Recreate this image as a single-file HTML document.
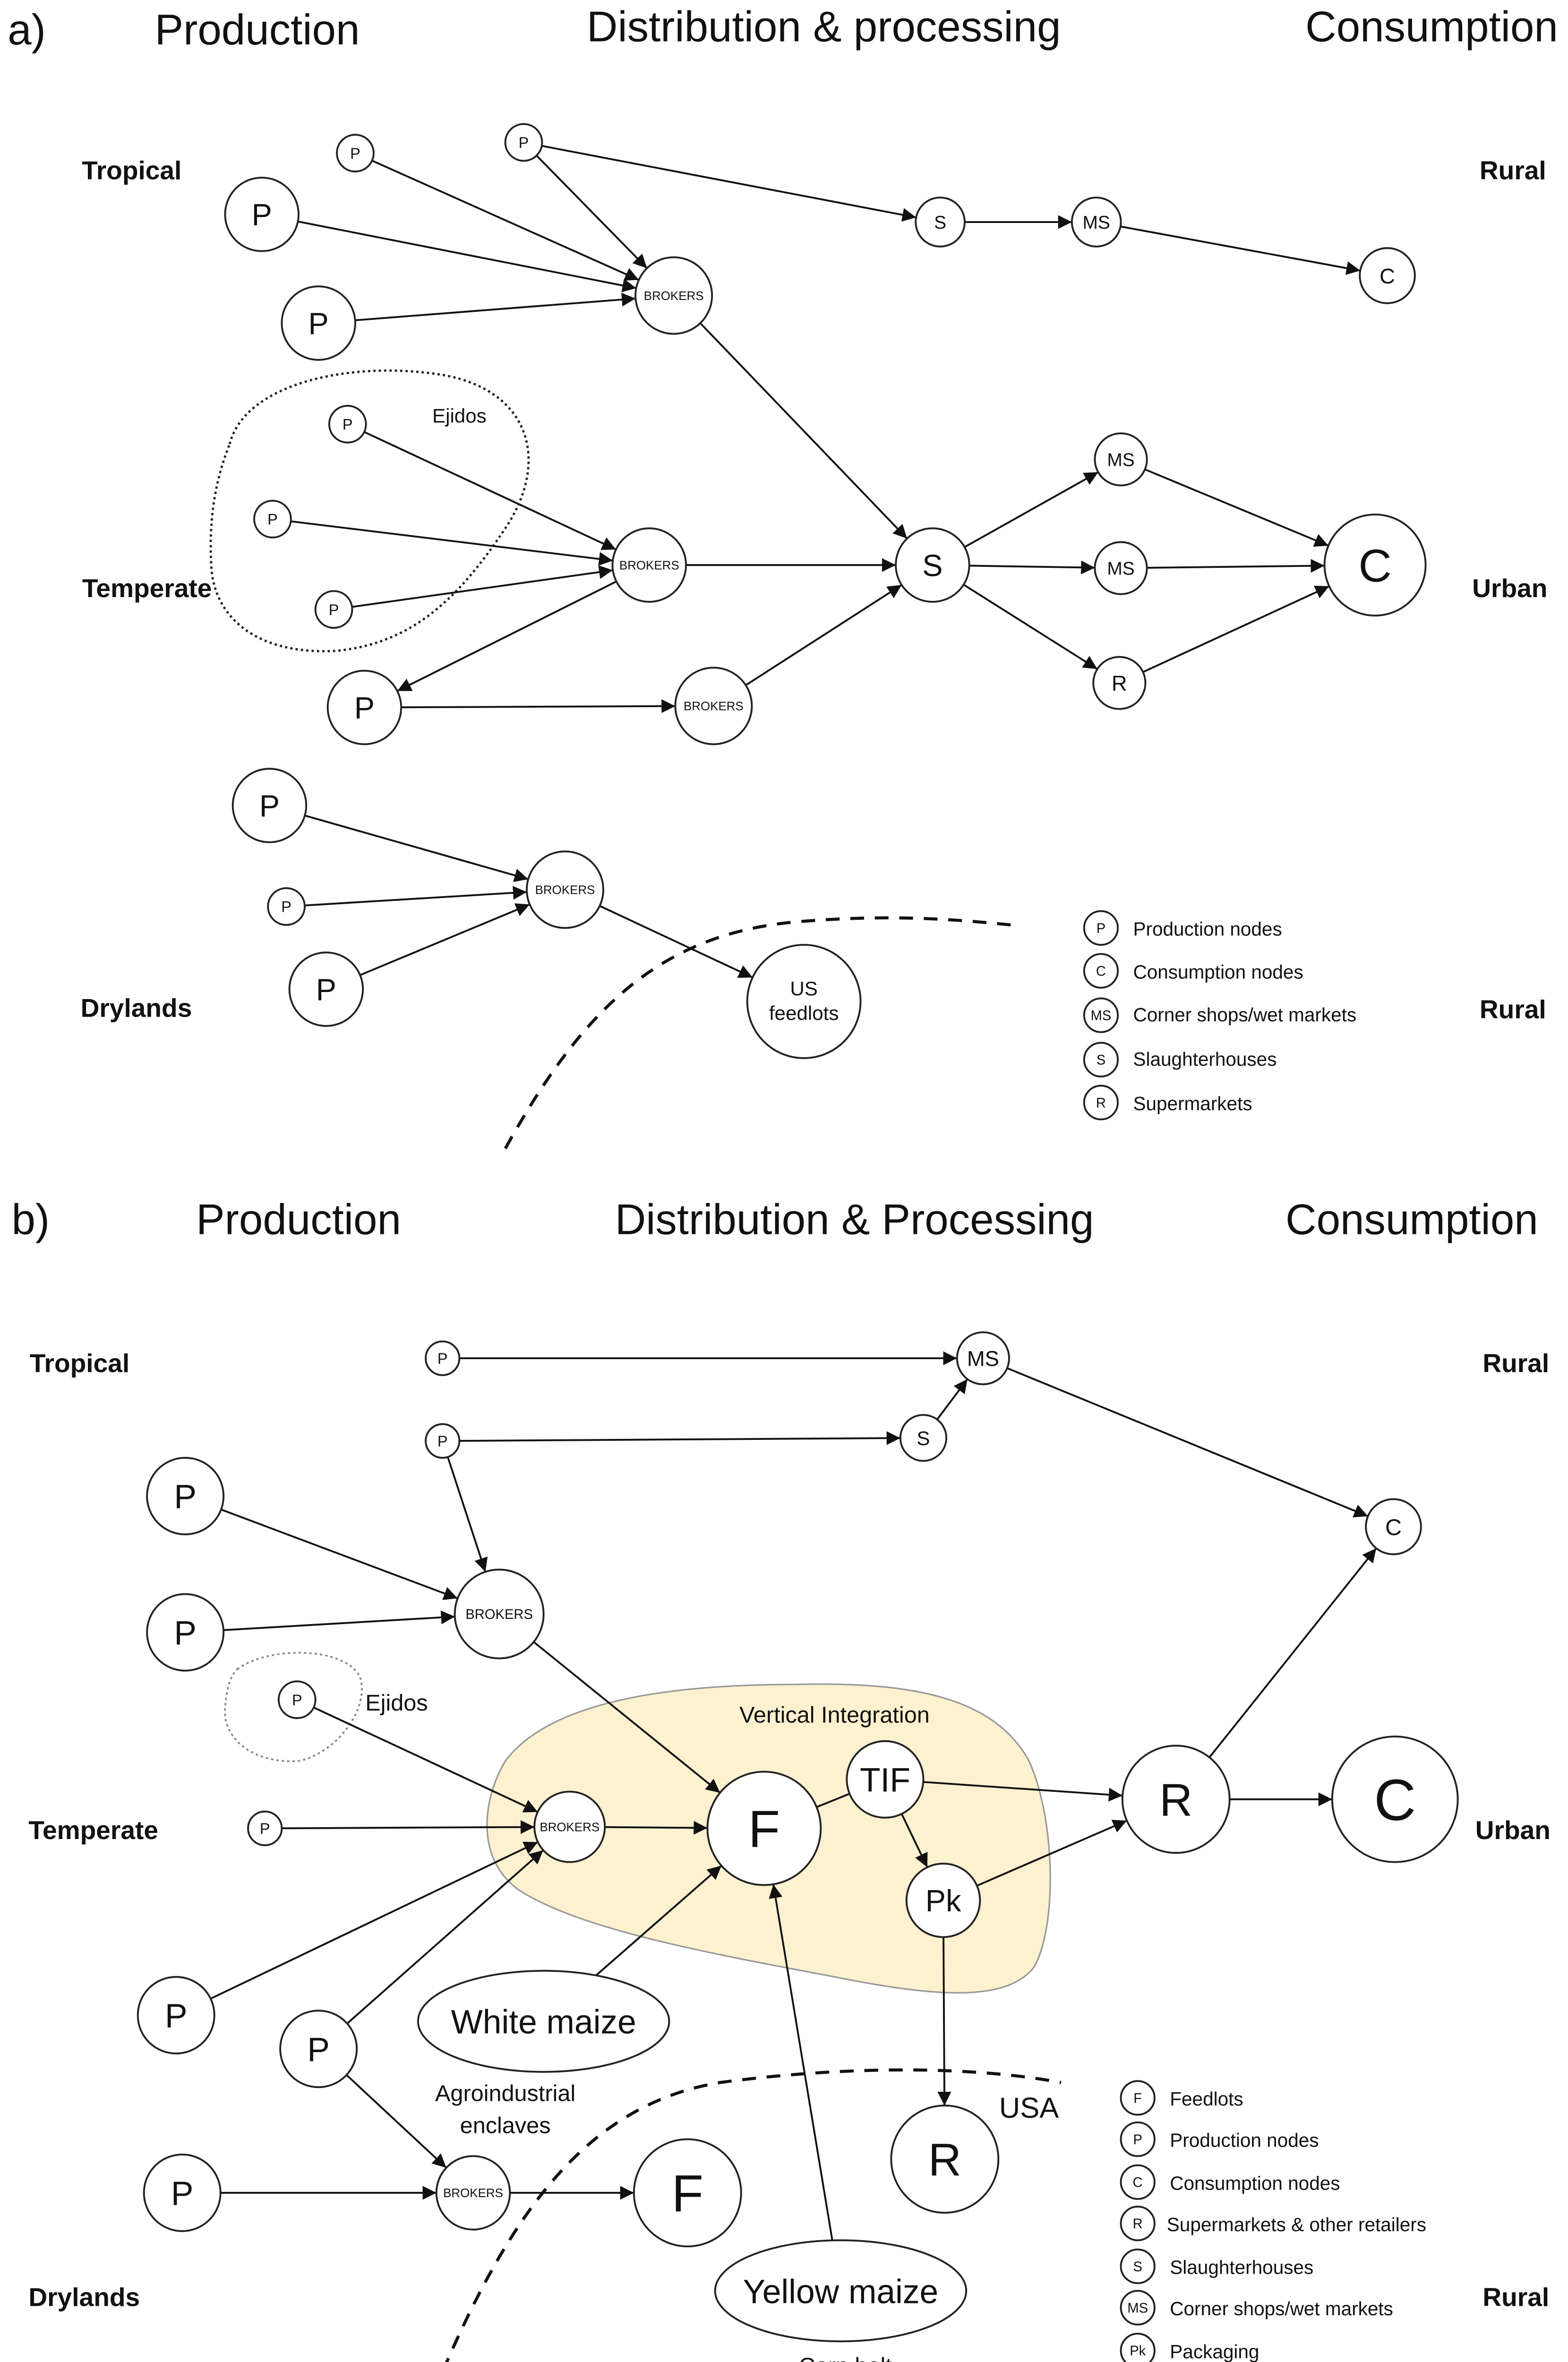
<!DOCTYPE html>
<html><head><meta charset="utf-8">
<style>
html,body{margin:0;padding:0;background:#fff;width:3319px;height:5073px;overflow:hidden;}
svg{display:block;position:absolute;left:0;top:0;width:3319px;height:5073px;}
text{font-family:"Liberation Sans",sans-serif;fill:#111;}
.b{font-weight:bold;font-size:17px;}
.h{font-size:28px;}
.n{fill:#fff;stroke:#222;stroke-width:1.2;}
.lg{font-size:12.5px;}
</style></head>
<body>
<svg id="s" width="3319" height="5073" viewBox="0 0 1024 1565" preserveAspectRatio="none" xmlns="http://www.w3.org/2000/svg">
<defs><marker id="ar" viewBox="0 0 10 10" refX="10" refY="5" markerWidth="9" markerHeight="9" markerUnits="userSpaceOnUse" orient="auto"><path d="M0,0 L10,5 L0,10 z" fill="#111"/></marker></defs>
<rect width="1024" height="1565" fill="#fff"/>
<text x="5" y="29" class="h">a)</text>
<text x="168" y="29" class="h" text-anchor="middle">Production</text>
<text x="538" y="27" class="h" text-anchor="middle">Distribution &amp; processing</text>
<text x="935" y="27" class="h" text-anchor="middle">Consumption</text>
<text x="86" y="117" class="b" text-anchor="middle">Tropical</text>
<text x="988" y="117" class="b" text-anchor="middle">Rural</text>
<text x="96" y="390" class="b" text-anchor="middle">Temperate</text>
<text x="986" y="390" class="b" text-anchor="middle">Urban</text>
<text x="89" y="664" class="b" text-anchor="middle">Drylands</text>
<text x="988" y="665" class="b" text-anchor="middle">Rural</text>
<path d="M150,290 C160,250 230,235 290,245 C345,255 360,300 330,345 C300,390 270,420 220,425 C170,428 140,405 138,370 C136,335 142,310 150,290 Z" fill="none" stroke="#222" stroke-width="1.5" stroke-dasharray="1.5,2"/>
<text x="300" y="276" font-size="13" text-anchor="middle">Ejidos</text>
<path d="M330,750 C380,660 430,610 520,602 C580,597 620,600 660,604" fill="none" stroke="#111" stroke-width="2" stroke-dasharray="9,7"/>
<text x="20" y="806" class="h" text-anchor="middle">b)</text>
<text x="195" y="806" class="h" text-anchor="middle">Production</text>
<text x="558" y="806" class="h" text-anchor="middle">Distribution &amp; Processing</text>
<text x="922" y="806" class="h" text-anchor="middle">Consumption</text>
<text x="52" y="896" class="b" text-anchor="middle">Tropical</text>
<text x="990" y="896" class="b" text-anchor="middle">Rural</text>
<text x="61" y="1201" class="b" text-anchor="middle">Temperate</text>
<text x="988" y="1201" class="b" text-anchor="middle">Urban</text>
<text x="55" y="1506" class="b" text-anchor="middle">Drylands</text>
<text x="990" y="1506" class="b" text-anchor="middle">Rural</text>
<path d="M330,1150 C360,1110 440,1100 520,1100 C600,1098 650,1110 672,1150 C690,1190 690,1260 675,1285 C655,1310 600,1302 540,1290 C460,1275 380,1260 340,1235 C310,1215 315,1175 330,1150 Z" fill="#fdf1cf" stroke="#999" stroke-width="1"/>
<text x="545" y="1125" font-size="15" text-anchor="middle">Vertical Integration</text>
<path d="M155,1090 C175,1075 225,1075 235,1095 C242,1115 220,1145 195,1150 C165,1152 145,1135 147,1115 C148,1103 150,1095 155,1090 Z" fill="none" stroke="#888" stroke-width="1.2" stroke-dasharray="1.5,2"/>
<text x="259" y="1117" font-size="15" text-anchor="middle">Ejidos</text>
<path d="M283,1563 C330,1450 380,1375 470,1360 C560,1348 640,1350 693,1360" fill="none" stroke="#111" stroke-width="2" stroke-dasharray="9,7"/>
<g id="edges" stroke="#111" stroke-width="1.2" fill="none"></g>
<g id="nodes"></g>
<text x="330" y="1372" font-size="15" text-anchor="middle">Agroindustrial</text>
<text x="330" y="1393" font-size="15" text-anchor="middle">enclaves</text>
<text x="672" y="1383" font-size="19" text-anchor="middle">USA</text>
<text x="552" y="1550" font-size="15" text-anchor="middle">Corn belt</text>
<g class="lg">
<text x="740" y="611">Production nodes</text>
<text x="740" y="639">Consumption nodes</text>
<text x="740" y="667">Corner shops/wet markets</text>
<text x="740" y="696">Slaughterhouses</text>
<text x="740" y="725">Supermarkets</text>
<text x="764" y="1375">Feedlots</text>
<text x="764" y="1402">Production nodes</text>
<text x="764" y="1430">Consumption nodes</text>
<text x="762" y="1457">Supermarkets &amp; other retailers</text>
<text x="764" y="1485">Slaughterhouses</text>
<text x="764" y="1512">Corner shops/wet markets</text>
<text x="764" y="1540">Packaging</text>
</g>
</svg>
<script>
var N={
a1:[232,100,12,'P',10],a2:[342,93,12,'P',10],a3:[171,140,24,'P',20],a4:[208,211,24,'P',20],aB1:[440,193,25,'BROKERS',8],
aS1:[614,145,16,'S',12],aM1:[716,145,16,'MS',12],aC1:[906,180,18,'C',14],
e1:[227,277,12,'P',10],e2:[178,339,12,'P',10],e3:[218,398,12,'P',10],
aB2:[424,369,24,'BROKERS',8],aS2:[609,369,24,'S',20],aM2:[732,300,17,'MS',12],aM3:[732,371,17,'MS',12],aR:[731,446,17,'R',14],aC2:[898,369,33,'C',30],
a5:[238,462,24,'P',20],aB3:[466,461,25,'BROKERS',8],
d1:[176,526,24,'P',20],d2:[187,592,12,'P',10],d3:[213,646,24,'P',20],aB4:[369,581,25,'BROKERS',8],US:[525,654,37,'',0],
L1:[719,606,11,'P',9],L2:[719,634,11,'C',9],L3:[719,663,11,'MS',9],L4:[719,692,11,'S',9],L5:[719,720,11,'R',9],
b1:[289,887,11,'P',10],bM1:[642,887,17,'MS',14],b2:[289,941,11,'P',10],bS:[603,939,15,'S',13],bC1:[910,997,18,'C',15],
b3:[121,977,25,'P',22],b4:[121,1066,25,'P',22],bB1:[326,1054,29,'BROKERS',9],
be:[194,1110,12,'P',10],b5:[173,1194,11,'P',10],bB2:[372,1193,23,'BROKERS',8],F1:[499,1194,37,'F',34],TIF:[578,1162,25,'TIF',22],Pk:[616,1241,24,'Pk',20],
bR1:[768,1175,35,'R',30],bC2:[911,1175,41,'C',38],b6:[115,1316,25,'P',22],b7:[208,1338,25,'P',22],
bR2:[617,1410,35,'R',30],b8:[119,1432,25,'P',22],bB3:[309,1432,24,'BROKERS',8],F2:[449,1432,35,'F',34],
M1:[743,1370,11,'F',9],M2:[743,1397,11,'P',9],M3:[743,1425,11,'C',9],M4:[743,1452,11,'R',9],M5:[743,1480,11,'S',9],M6:[743,1507,11,'MS',9],M7:[743,1535,11,'Pk',9]
};
var E={WM:[355,1320,82,33,'White maize'],YM:[549,1496,82,33,'Yellow maize']};
var ed=[['a1','aB1'],['a2','aB1'],['a2','aS1'],['a3','aB1'],['a4','aB1'],['aS1','aM1'],['aM1','aC1'],['aB1','aS2'],
['e1','aB2'],['e2','aB2'],['e3','aB2'],['aB2','aS2'],['aB2','a5'],['a5','aB3'],['aB3','aS2'],['aS2','aM2'],['aS2','aM3'],['aS2','aR'],['aM2','aC2'],['aM3','aC2'],['aR','aC2'],
['d1','aB4'],['d2','aB4'],['d3','aB4'],['aB4','US'],
['b1','bM1'],['b2','bS'],['bS','bM1'],['bM1','bC1'],['b2','bB1'],['b3','bB1'],['b4','bB1'],['bB1','F1'],['be','bB2'],['b5','bB2'],['bB2','F1'],['b6','bB2'],['b7','bB2'],['b7','bB3'],['b8','bB3'],['bB3','F2'],
['WM','F1'],['YM','F1'],['F1','TIF',1],['TIF','bR1'],['TIF','Pk'],['Pk','bR1'],['Pk','bR2'],['bR1','bC2'],['bR1','bC1']];
var ns='http://www.w3.org/2000/svg';
function el(t,a,p){var e=document.createElementNS(ns,t);for(var k in a)e.setAttribute(k,a[k]);p.appendChild(e);return e;}
var G=document.getElementById('nodes'),EG=document.getElementById('edges');
function R(id,dx,dy){if(N[id])return N[id][2];var e=E[id];var t=Math.atan2(dy,dx);return 1/Math.sqrt(Math.pow(Math.cos(t)/e[2],2)+Math.pow(Math.sin(t)/e[3],2));}
function P(id){return N[id]||E[id];}
ed.forEach(function(d){var a=P(d[0]),b=P(d[1]);var dx=b[0]-a[0],dy=b[1]-a[1],L=Math.sqrt(dx*dx+dy*dy);
var r1=R(d[0],dx,dy),r2=R(d[1],-dx,-dy);
var at={x1:a[0]+dx/L*r1,y1:a[1]+dy/L*r1,x2:b[0]-dx/L*r2,y2:b[1]-dy/L*r2};if(!d[2])at['marker-end']='url(#ar)';el('line',at,EG);});
for(var k in N){var n=N[k];el('circle',{cx:n[0],cy:n[1],r:n[2],'class':'n'},G);
if(n[3]){var t=el('text',{x:n[0],y:n[1]+n[4]*0.36,'font-size':n[4],'text-anchor':'middle'},G);t.textContent=n[3];}}
for(var k in E){var e=E[k];el('ellipse',{cx:e[0],cy:e[1],rx:e[2],ry:e[3],'class':'n','stroke-width':1.8},G);var t=el('text',{x:e[0],y:e[1]+8,'font-size':22,'text-anchor':'middle'},G);t.textContent=e[4];}
var u=el('text',{x:525,y:650,'font-size':13,'text-anchor':'middle'},G);u.textContent='US';
u=el('text',{x:525,y:666,'font-size':13,'text-anchor':'middle'},G);u.textContent='feedlots';
</script>
</body></html>
